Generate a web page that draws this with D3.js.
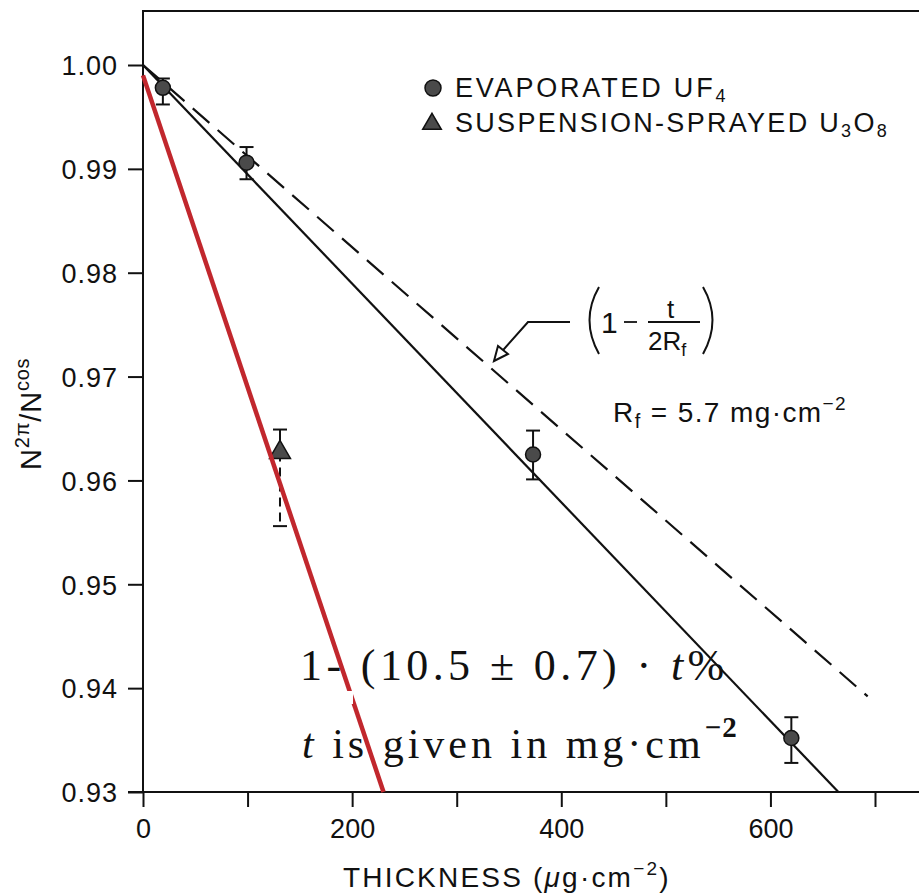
<!DOCTYPE html>
<html>
<head>
<meta charset="utf-8">
<script src="https://cdn.jsdelivr.net/npm/d3@7"></script>
<style>
  html, body { margin: 0; padding: 0; background: #fff; }
  svg { display: block; }
  text { font-family: "Liberation Sans", Arial, Helvetica, sans-serif; fill: #111; }
  .serif { font-family: "Liberation Serif", "Times New Roman", serif; }
</style>
</head>
<body>
<script>
// ---------- data ----------
const uf4Thickness = [19, 99, 373, 620];            // µg·cm^-2
const uf4Ratio     = [0.9978, 0.9906, 0.9625, 0.9352];
const uf4ErrHigh   = [0.0009, 0.0015, 0.0023, 0.0020];
const uf4ErrLow    = [0.0016, 0.0016, 0.0024, 0.0024];

const u3o8Thickness = [131];
const u3o8Ratio     = [0.9627];
const u3o8ErrHigh   = [0.0022];
const u3o8ErrLow    = [0.0071];

const fitLine    = [[0, 1.000], [665, 0.930]];      // solid fit through UF4
const theoryLine = [[0, 1.000], [693, 0.9392]];     // (1 - t/2Rf), dashed
const redLine    = [[0, 0.999], [230, 0.930]];      // hand-drawn red line

const xTicks = [0, 100, 200, 300, 400, 500, 600, 700];
const xTickLabels = [0, 200, 400, 600];
const yTicks = [0.93, 0.94, 0.95, 0.96, 0.97, 0.98, 0.99, 1.00];

// ---------- layout ----------
const W = 919, H = 893;
const svg = d3.select("body").append("svg").attr("width", W).attr("height", H);

const x = d3.scaleLinear().domain([0, 700]).range([143, 875]);
const y = d3.scaleLinear().domain([0.93, 1.00]).range([792, 65]);

// frame: top border, left axis line, bottom axis line
svg.append("line").attr("x1", 142).attr("x2", W).attr("y1", 11).attr("y2", 11)
  .attr("stroke", "#111").attr("stroke-width", 2);
svg.append("line").attr("x1", 143).attr("x2", 143).attr("y1", 10).attr("y2", 793)
  .attr("stroke", "#111").attr("stroke-width", 2);
svg.append("line").attr("x1", 128).attr("x2", W).attr("y1", 792).attr("y2", 792)
  .attr("stroke", "#111").attr("stroke-width", 2);

// y axis
const yAxis = d3.axisLeft(y).tickValues(yTicks).tickSize(15).tickPadding(10)
  .tickFormat(d3.format(".2f"));
const gy = svg.append("g").attr("transform", "translate(143,0)").call(yAxis);
gy.select(".domain").remove();
gy.selectAll(".tick line").attr("stroke", "#111").attr("stroke-width", 2);
gy.selectAll(".tick text").attr("font-size", 27).attr("fill", "#111")
  .attr("letter-spacing", 1).attr("dy", "0.36em")
  .style("font-family", "'Liberation Sans', Arial, sans-serif");

// x axis
const xAxis = d3.axisBottom(x).tickValues(xTicks).tickSize(15).tickPadding(12)
  .tickFormat(d => xTickLabels.includes(d) ? String(d) : "");
const gx = svg.append("g").attr("transform", "translate(0,792)").call(xAxis);
gx.select(".domain").remove();
gx.selectAll(".tick line").attr("stroke", "#111").attr("stroke-width", 2);
gx.selectAll(".tick text").attr("font-size", 27).attr("fill", "#111")
  .style("font-family", "'Liberation Sans', Arial, sans-serif");

// axis titles
const xt = svg.append("text").attr("x", 343).attr("y", 887).attr("font-size", 28)
  .attr("letter-spacing", 2.2);
xt.append("tspan").text("THICKNESS (");
xt.append("tspan").attr("font-style", "italic").text("μ");
xt.append("tspan").text("g·cm");
xt.append("tspan").attr("font-size", 19).attr("dy", -12).text("−2");
xt.append("tspan").attr("dy", 12).text(")");

const yt = svg.append("text").attr("transform", "translate(41,470) rotate(-90)")
  .attr("font-size", 29).attr("letter-spacing", 0.8);
yt.append("tspan").text("N");
yt.append("tspan").attr("font-size", 20).attr("dy", -12).text("2π");
yt.append("tspan").attr("dy", 12).text("/N");
yt.append("tspan").attr("font-size", 20).attr("dy", -12).text("cos");

// ---------- lines ----------
const line = d3.line().x(d => x(d[0])).y(d => y(d[1]));

svg.append("path").datum(theoryLine).attr("d", line)
  .attr("fill", "none").attr("stroke", "#111").attr("stroke-width", 2.2)
  .attr("stroke-dasharray", "22,11");
svg.append("path").datum(fitLine).attr("d", line)
  .attr("fill", "none").attr("stroke", "#111").attr("stroke-width", 2.2);

// ---------- error bars & markers ----------
const uf4 = uf4Thickness.map((t, i) => ({ t, r: uf4Ratio[i], hi: uf4ErrHigh[i], lo: uf4ErrLow[i] }));
const u3o8 = u3o8Thickness.map((t, i) => ({ t, r: u3o8Ratio[i], hi: u3o8ErrHigh[i], lo: u3o8ErrLow[i] }));

function errorBars(data, dashedLower) {
  const g = svg.append("g").attr("stroke", "#111").attr("stroke-width", 2);
  data.forEach(d => {
    const cx = x(d.t);
    g.append("line").attr("x1", cx).attr("x2", cx).attr("y1", y(d.r + d.hi)).attr("y2", y(d.r));
    const low = g.append("line").attr("x1", cx).attr("x2", cx).attr("y1", y(d.r)).attr("y2", y(d.r - d.lo));
    if (dashedLower) low.attr("stroke-dasharray", "9,6");
    [d.r + d.hi, d.r - d.lo].forEach(v => {
      g.append("line").attr("x1", cx - 7).attr("x2", cx + 7).attr("y1", y(v)).attr("y2", y(v));
    });
  });
}
errorBars(uf4, false);
errorBars(u3o8, true);

svg.append("g").selectAll("circle").data(uf4).join("circle")
  .attr("cx", d => x(d.t)).attr("cy", d => y(d.r)).attr("r", 7.5)
  .attr("fill", "#4a4a4a").attr("stroke", "#111").attr("stroke-width", 1.5);

const tri = d3.symbol().type(d3.symbolTriangle).size(190);
svg.append("g").selectAll("path").data(u3o8).join("path")
  .attr("transform", d => `translate(${x(d.t)},${y(d.r)})`)
  .attr("d", tri).attr("fill", "#4a4a4a").attr("stroke", "#111").attr("stroke-width", 1.5);

// red line
svg.append("path").datum(redLine).attr("d", line)
  .attr("fill", "none").attr("stroke", "#c1272d").attr("stroke-width", 4.5);
// small white notch where the overlay text box cuts the red line
svg.append("rect").attr("x", 340).attr("y", 691).attr("width", 13).attr("height", 13).attr("fill", "#fff");

// ---------- legend ----------
svg.append("circle").attr("cx", 433).attr("cy", 88).attr("r", 8)
  .attr("fill", "#4a4a4a").attr("stroke", "#111").attr("stroke-width", 1.5);
svg.append("path").attr("transform", "translate(432,124)")
  .attr("d", d3.symbol().type(d3.symbolTriangle).size(150))
  .attr("fill", "#4a4a4a").attr("stroke", "#111").attr("stroke-width", 1.5);

const l1 = svg.append("text").attr("x", 455).attr("y", 97).attr("font-size", 27).attr("letter-spacing", 2.8);
l1.append("tspan").text("EVAPORATED UF");
l1.append("tspan").attr("font-size", 18).attr("dy", 5).text("4");

const l2 = svg.append("text").attr("x", 455).attr("y", 132).attr("font-size", 27).attr("letter-spacing", 2.3);
l2.append("tspan").text("SUSPENSION-SPRAYED U");
l2.append("tspan").attr("font-size", 18).attr("dy", 5).text("3");
l2.append("tspan").attr("dy", -5).text("O");
l2.append("tspan").attr("font-size", 18).attr("dy", 5).text("8");

// ---------- (1 - t/2Rf) annotation ----------
const ann = svg.append("g").attr("stroke", "#111").attr("fill", "none").attr("stroke-width", 2);
ann.append("path").attr("d", "M599,287 Q580,320 599,354");
ann.append("path").attr("d", "M703,287 Q722,320 703,354");
ann.append("line").attr("x1", 648).attr("x2", 700).attr("y1", 322).attr("y2", 322).attr("stroke-width", 1.8);
ann.append("line").attr("x1", 624).attr("x2", 637).attr("y1", 322).attr("y2", 322).attr("stroke-width", 1.8);
ann.append("polyline").attr("points", "570,322 528,322 497,357");
ann.append("path").attr("d", "M494,361 L498,346 L508,354 Z").attr("fill", "#fff");

svg.append("text").attr("x", 601).attr("y", 333).attr("font-size", 30).text("1");
svg.append("text").attr("x", 667).attr("y", 318).attr("font-size", 26).text("t");
const rf = svg.append("text").attr("x", 648).attr("y", 350).attr("font-size", 26);
rf.append("tspan").text("2R");
rf.append("tspan").attr("font-size", 18).attr("dy", 6).text("f");

const rf2 = svg.append("text").attr("x", 613).attr("y", 422).attr("font-size", 28).attr("letter-spacing", 1.4);
rf2.append("tspan").text("R");
rf2.append("tspan").attr("font-size", 20).attr("dy", 6).text("f");
rf2.append("tspan").attr("dy", -6).text(" = 5.7 mg·cm");
rf2.append("tspan").attr("font-size", 19).attr("dy", -12).text("−2");

// ---------- serif overlay text ----------
const s1 = svg.append("text").attr("class", "serif").attr("x", 300).attr("y", 680)
  .attr("font-size", 44).attr("letter-spacing", 4.4);
s1.append("tspan").text("1- (10.5 ± 0.7) · ");
s1.append("tspan").attr("font-style", "italic").text("t");
s1.append("tspan").text("%");

const s2 = svg.append("text").attr("class", "serif").attr("x", 302).attr("y", 758)
  .attr("font-size", 42).attr("letter-spacing", 4.0);
s2.append("tspan").attr("font-style", "italic").text("t");
s2.append("tspan").text("  is given in mg·cm");
s2.append("tspan").attr("font-size", 29).attr("dy", -21).attr("font-weight", "bold").attr("letter-spacing", 1).text("−2");
</script>
</body>
</html>
